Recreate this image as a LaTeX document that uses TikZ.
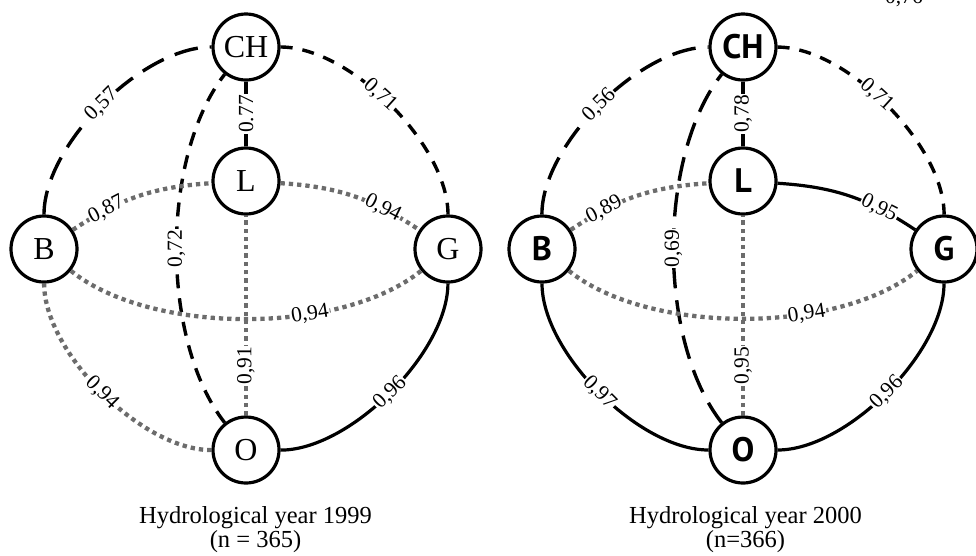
\documentclass[tikz,border=0pt]{standalone}
\usepackage{fontspec}
\setmainfont{Liberation Serif}
\newfontfamily\stationsans{PT Sans}

\definecolor{dotgrey}{RGB}{108,108,108}

\tikzset{
  station/.style={circle, draw, line width=3.2pt, minimum size=66pt, inner sep=0pt,
    font=\fontsize{32}{32}\selectfont},
  stationbold/.style={station, font=\fontsize{34}{34}\selectfont\stationsans\bfseries},
  corr/.style={fill=white, text=black, inner sep=1pt, font=\fontsize{21.5}{21.5}\selectfont},
  upright/.style={corr, rotate=90},
  strong/.style={line width=3.2pt},
  longdash/.style={line width=3.4pt, dash pattern=on 24pt off 12pt},
  middash/.style={line width=3.4pt, dash pattern=on 14pt off 10pt},
  shortdash/.style={line width=3.4pt, dash pattern=on 12pt off 10pt},
  dotline/.style={line width=4.3pt, dotgrey, dash pattern=on 4.3pt off 4pt},
  rim/.style={bend left=45, looseness=.75},
  caption/.style={anchor=base, font=\fontsize{24.5}{24}\selectfont}
}

\begin{document}
\begin{tikzpicture}[x=1pt,y=-1pt]
  \useasboundingbox (0,0) rectangle (976,555);

  % Stations 1999
  \node[station] (CH1) at (246,47) {CH};
  \node[station] (L1) at (246,181) {L};
  \node[station] (B1) at (44,249) {B};
  \node[station] (G1) at (448,249) {G};
  \node[station] (O1) at (246,450) {O};

  % Correlations 1999
  \draw[longdash] (B1) to[rim] node[corr,sloped] {0,57} (CH1);
  \draw[shortdash] (CH1) to[rim] node[corr,sloped,pos=.45] {0,71} (G1);
  \draw[strong] (L1) -- node[upright] {0.77} (CH1);
  \draw[middash] (O1) to[bend left=38, looseness=.77] node[upright] {0,72} (CH1);
  \draw[dotline] (B1) to[bend left=15] node[corr,sloped,pos=.25] {0,87} (L1);
  \draw[dotline] (L1) to[bend left=15] node[corr,sloped,pos=.73] {0,94} (G1);
  \draw[dotline] (O1) -- node[upright,pos=.25] {0,91} (L1);
  \draw[dotline] (B1) to[bend right=39, looseness=.75] node[corr,sloped,pos=.66] {0,94} (G1);
  \draw[dotline] (O1) to[rim] node[corr,sloped] {0,94} (B1);
  \draw[strong] (G1) to[rim] node[corr,sloped] {0,96} (O1);

  \node[caption] (cap1) at (255.5,523) {Hydrological year 1999};
  \node[caption] (n1) at (255.5,547) {(n = 365)};

  % Stations 2000
  \node[stationbold] (CH2) at (743,47) {CH};
  \node[stationbold] (L2) at (743,181) {L};
  \node[stationbold] (B2) at (542,249) {B};
  \node[stationbold] (G2) at (944,249) {G};
  \node[stationbold] (O2) at (743,450) {O};

  % Correlations 2000
  \draw[longdash] (B2) to[rim] node[corr,sloped] {0,56} (CH2);
  \draw[shortdash] (CH2) to[rim] node[corr,sloped,pos=.45] {0,71} (G2);
  \draw[strong] (L2) -- node[upright] {0,78} (CH2);
  \draw[longdash] (O2) to[bend left=38, looseness=.77] node[upright] {0,69} (CH2);
  \draw[dotline] (B2) to[bend left=15] node[corr,sloped,pos=.25] {0,89} (L2);
  \draw[strong] (L2) to[bend left=15] node[corr,sloped,pos=.73] {0,95} (G2);
  \draw[dotline] (O2) -- node[upright,pos=.25] {0,95} (L2);
  \draw[dotline] (B2) to[bend right=39, looseness=.75] node[corr,sloped,pos=.66] {0,94} (G2);
  \draw[strong] (O2) to[rim] node[corr,sloped] {0,97} (B2);
  \draw[strong] (G2) to[rim] node[corr,sloped] {0,96} (O2);

  \node[caption] (cap2) at (745.5,523) {Hydrological year 2000};
  \node[caption] (n2) at (745.5,547) {(n=366)};

  % cut-off label at the top edge
  \node[anchor=base, font=\fontsize{21.5}{21.5}\selectfont] (cut) at (904,3) {0,76};
\end{tikzpicture}
\end{document}
